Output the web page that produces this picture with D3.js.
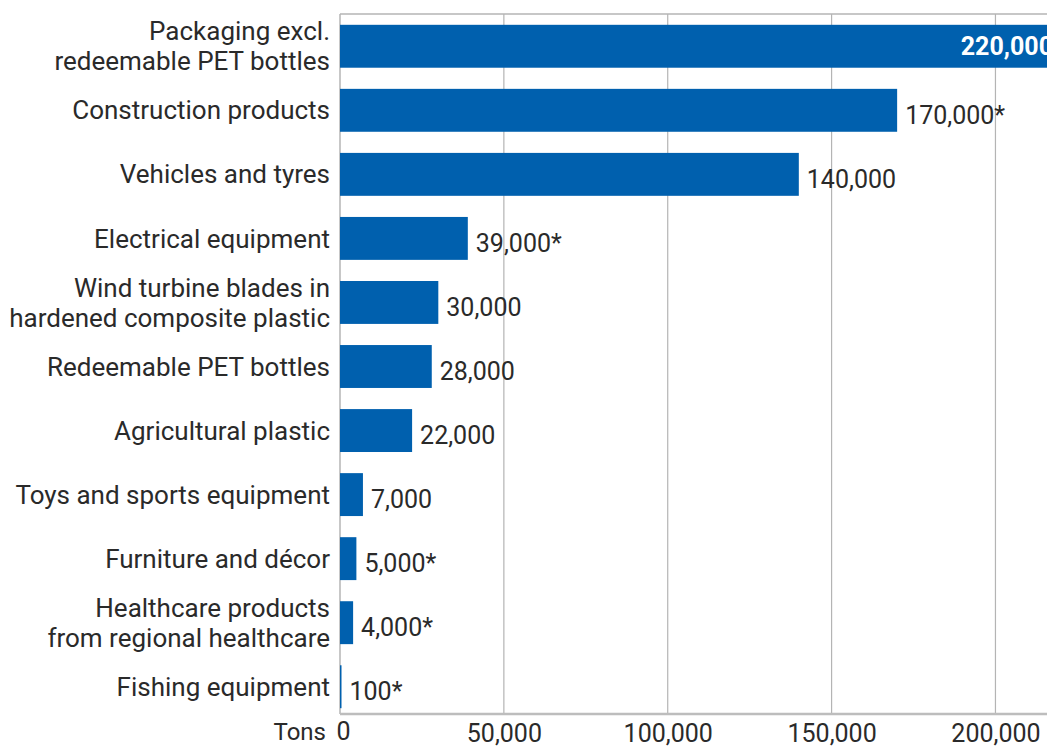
<!DOCTYPE html>
<html>
<head>
<meta charset="utf-8">
<script src="https://cdn.jsdelivr.net/npm/d3@7/dist/d3.min.js"></script>
<style>
  html, body { margin: 0; padding: 0; background: #fff; }
  svg { display: block; }
  text { font-family: Roboto, "Noto Sans", sans-serif; }
</style>
</head>
<body>
<svg id="chart" width="1047" height="747"></svg>
<script>
// Plastic waste by product group, tons per year
const categories = [
  ["Packaging excl.", "redeemable PET bottles"],
  ["Construction products"],
  ["Vehicles and tyres"],
  ["Electrical equipment"],
  ["Wind turbine blades in", "hardened composite plastic"],
  ["Redeemable PET bottles"],
  ["Agricultural plastic"],
  ["Toys and sports equipment"],
  ["Furniture and décor"],
  ["Healthcare products", "from regional healthcare"],
  ["Fishing equipment"]
];
const values = [220000, 170000, 140000, 39000, 30000, 28000, 22000, 7000, 5000, 4000, 100];
const estimated = [false, true, false, true, false, false, false, false, true, true, true];
const tickValues = [0, 50000, 100000, 150000, 200000];
const axisUnit = "Tons";

const svg = d3.select("#chart");
const W = 1047, H = 747;
const plotTop = 14, plotBottom = 714, plotLeft = 340;

const x = d3.scaleLinear().domain([0, 220000]).range([plotLeft, 1061]);
const y = d3.scaleBand()
  .domain(d3.range(categories.length))
  .range([12, 721])
  .paddingInner(0.33)
  .paddingOuter(0.2);

const fmt = d3.format(",");
const barColor = "#0060ae";
const textColor = "#2a2a2a";

// vertical gridlines
svg.append("g")
  .selectAll("line")
  .data(tickValues.slice(1))
  .join("line")
  .attr("x1", d => x(d)).attr("x2", d => x(d))
  .attr("y1", plotTop).attr("y2", plotBottom)
  .attr("stroke", "#b4b4b4").attr("stroke-width", 1.2);

// top border and left axis
svg.append("line")
  .attr("x1", plotLeft).attr("x2", W)
  .attr("y1", plotTop).attr("y2", plotTop)
  .attr("stroke", "#b4b4b4").attr("stroke-width", 1.5);
svg.append("line")
  .attr("x1", plotLeft).attr("x2", plotLeft)
  .attr("y1", plotTop).attr("y2", plotBottom)
  .attr("stroke", "#b4b4b4").attr("stroke-width", 1.5);

// bars
svg.append("g")
  .selectAll("rect")
  .data(values)
  .join("rect")
  .attr("x", x(0))
  .attr("y", (d, i) => y(i))
  .attr("width", d => Math.max(1.5, x(d) - x(0)))
  .attr("height", y.bandwidth())
  .attr("fill", barColor);

// bottom axis
const axis = d3.axisBottom(x)
  .tickValues(tickValues)
  .tickFormat(fmt)
  .tickSize(0);
const gx = svg.append("g")
  .attr("transform", `translate(0,${plotBottom})`)
  .call(axis);
gx.select(".domain").attr("stroke", "#bdbdbd").attr("stroke-width", 2.5)
  .attr("d", `M${plotLeft},0H${W}`);
gx.selectAll(".tick text")
  .attr("font-size", 25)
  .attr("fill", textColor)
  .attr("y", 28)
  .attr("dy", 0)
  .style("font-family", "Roboto, sans-serif");
gx.selectAll(".tick").filter(d => d === 0).select("text")
  .attr("text-anchor", "start")
  .attr("x", -4)
  .attr("y", 26);
svg.append("text")
  .attr("x", 326)
  .attr("y", plotBottom + 26)
  .attr("text-anchor", "end")
  .attr("font-size", 24)
  .attr("fill", textColor)
  .text(axisUnit);

// category labels
const catG = svg.append("g");
categories.forEach((lines, i) => {
  const cy = y(i) + y.bandwidth() / 2;
  const lh = 30;
  const t = catG.append("text")
    .attr("text-anchor", "end")
    .attr("font-size", 26)
    .attr("fill", textColor);
  lines.forEach((ln, k) => {
    t.append("tspan")
      .attr("x", 330)
      .attr("y", cy + (k - (lines.length - 1) / 2) * lh)
      .attr("dy", "0.35em")
      .text(ln);
  });
});

// value labels
svg.append("g")
  .selectAll("text")
  .data(values)
  .join("text")
  .each(function (d, i) {
    const inside = x(d) > W - 60;
    const cy = y(i) + y.bandwidth() / 2;
    d3.select(this)
      .attr("x", inside ? x(d) - 8 : Math.max(x(d), x(0) + 1.5) + 8)
      .attr("y", cy + (inside ? 0 : 5))
      .attr("dy", "0.35em")
      .attr("text-anchor", inside ? "end" : "start")
      .attr("font-size", 25)
      .attr("font-weight", inside ? 700 : 400)
      .attr("fill", inside ? "#fff" : textColor)
      .text(fmt(d) + (estimated[i] ? "*" : ""));
  });
</script>
</body>
</html>
